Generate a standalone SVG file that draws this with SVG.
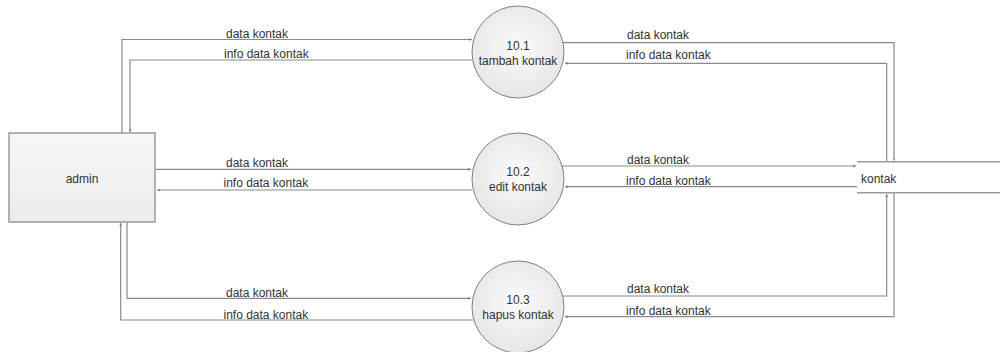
<svg xmlns="http://www.w3.org/2000/svg" width="1000" height="352" viewBox="0 0 1000 352">
<style>
text{font-family:"Liberation Sans",Arial,sans-serif;font-size:12px;fill:#333}
.c{text-anchor:middle}
.proc{fill:url(#cg);stroke:#808080;stroke-width:1}
.ent{fill:url(#eg);stroke:#9a9a9a;stroke-width:1.5}
.store{stroke:#9a9a9a;stroke-width:1.5;fill:none}
.flow{fill:none;stroke:#8a8a8a;stroke-width:1.2;marker-end:url(#ah)}
</style>
<defs>
<radialGradient id="cg" cx="50%" cy="45%" r="60%">
<stop offset="0" stop-color="#fbfbfb"/>
<stop offset="1" stop-color="#e4e4e4"/>
</radialGradient>
<linearGradient id="eg" x1="0" y1="0" x2="0" y2="1">
<stop offset="0" stop-color="#f6f6f6"/>
<stop offset="1" stop-color="#ececec"/>
</linearGradient>
<marker id="ah" viewBox="0 0 3 3" refX="3" refY="1.5" markerWidth="3" markerHeight="3" markerUnits="userSpaceOnUse" orient="auto">
<path d="M0,0 L3,1.5 L0,3 z" fill="#888"/>
</marker>
</defs>
<g id="connectors">
<path class="flow" d="M122,133 V39.5 H472"/>
<path class="flow" d="M472,60 H130 V132"/>
<path class="flow" d="M563,42.7 H894 V160.5"/>
<path class="flow" d="M886.7,161 V63.3 H565"/>
<path class="flow" d="M155,169.3 H471"/>
<path class="flow" d="M472,190 H157"/>
<path class="flow" d="M562,166 H856"/>
<path class="flow" d="M857,186.7 H565"/>
<path class="flow" d="M127,222 V298.3 H471"/>
<path class="flow" d="M473,320 H120.7 V223"/>
<path class="flow" d="M563,296 H886.7 V194"/>
<path class="flow" d="M894,193 V316.7 H565"/>
<text x="226" y="38">data kontak</text>
<text x="224" y="58">info data kontak</text>
<text x="627" y="39">data kontak</text>
<text x="626" y="59">info data kontak</text>
<text x="226" y="167">data kontak</text>
<text x="223.5" y="187">info data kontak</text>
<text x="627" y="164">data kontak</text>
<text x="626" y="185">info data kontak</text>
<text x="226" y="297">data kontak</text>
<text x="223.5" y="319">info data kontak</text>
<text x="627" y="292.5">data kontak</text>
<text x="626" y="314.5">info data kontak</text>
</g>
<g id="admin">
<rect class="ent" x="9" y="133" width="146" height="89"/>
<text class="c" x="82" y="183">admin</text>
</g>
<g id="p10_1">
<circle class="proc" cx="518" cy="52" r="46"/>
<text class="c" x="518" y="50">10.1</text>
<text class="c" x="518" y="65">tambah kontak</text>
</g>
<g id="p10_2">
<circle class="proc" cx="518" cy="179" r="46"/>
<text class="c" x="518" y="176">10.2</text>
<text class="c" x="518" y="191">edit kontak</text>
</g>
<g id="p10_3">
<circle class="proc" cx="518" cy="307" r="46"/>
<text class="c" x="518" y="303.5">10.3</text>
<text class="c" x="518" y="318.5">hapus kontak</text>
</g>
<g id="kontak">
<rect x="857" y="161.7" width="143" height="31" fill="#fff"/>
<line class="store" x1="857" y1="161.7" x2="1000" y2="161.7"/>
<line class="store" x1="857" y1="192.7" x2="1000" y2="192.7"/>
<text x="861" y="183">kontak</text>
</g>
</svg>
